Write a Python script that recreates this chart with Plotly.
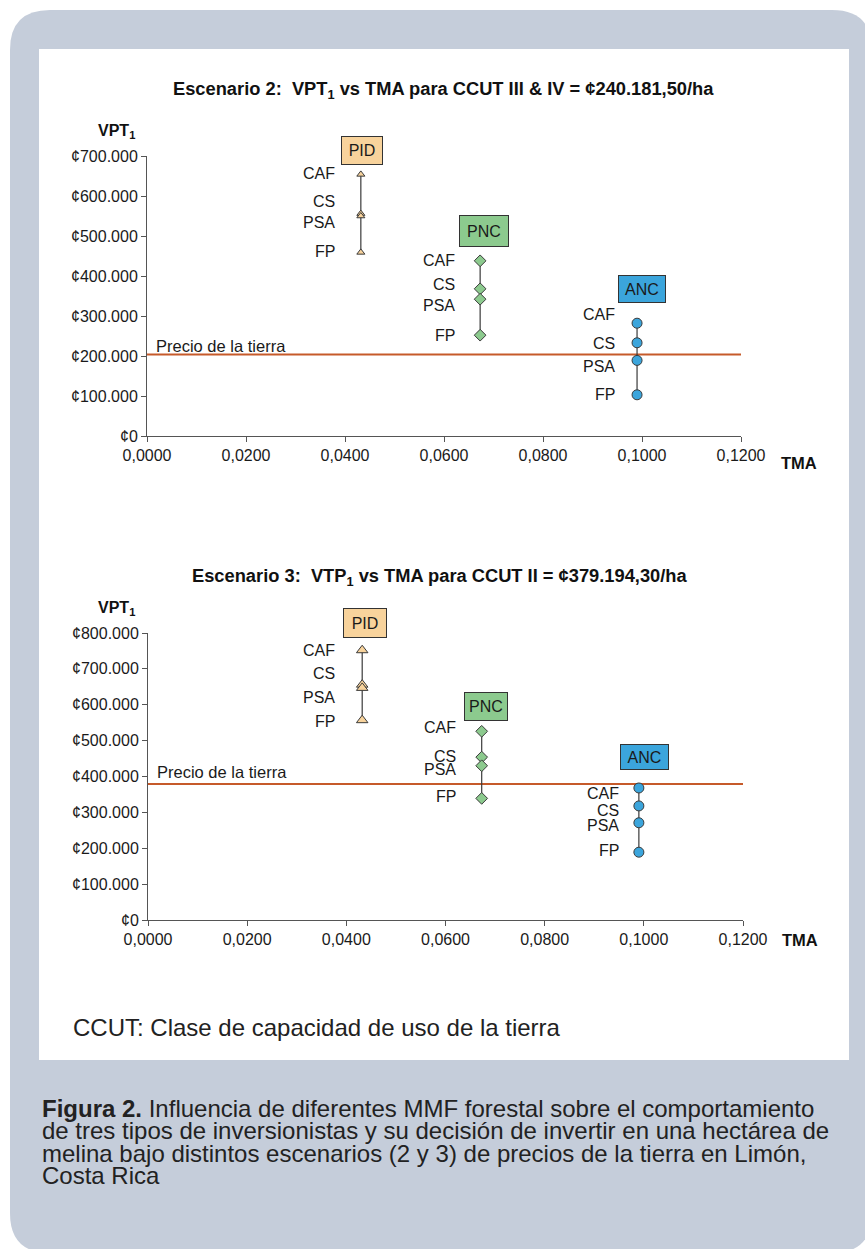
import plotly.graph_objects as go

W, H = 865, 1249

# ---------------- data ----------------
groups = ["PID", "PNC", "ANC"]
mmf = ["CAF", "CS", "PSA", "FP"]
tma = [0.0432, 0.0673, 0.0990]

esc2_pid = [654000, 556000, 550000, 459000]
esc2_pnc = [438000, 368000, 342000, 252000]
esc2_anc = [282000, 233000, 189000, 103000]
esc2_price = 204000

esc3_pid = [752000, 656000, 647000, 557000]
esc3_pnc = [526000, 454000, 430000, 339000]
esc3_anc = [368000, 318000, 271000, 189000]
esc3_price = 379194.30

x_tickvals = [0, 0.02, 0.04, 0.06, 0.08, 0.10, 0.12]
x_ticktext = ["0,0000", "0,0200", "0,0400", "0,0600", "0,0800", "0,1000", "0,1200"]
y2_tickvals = [0, 100000, 200000, 300000, 400000, 500000, 600000, 700000]
y2_ticktext = ["¢0", "¢100.000", "¢200.000", "¢300.000", "¢400.000", "¢500.000", "¢600.000", "¢700.000"]
y3_tickvals = [0, 100000, 200000, 300000, 400000, 500000, 600000, 700000, 800000]
y3_ticktext = ["¢0", "¢100.000", "¢200.000", "¢300.000", "¢400.000", "¢500.000", "¢600.000", "¢700.000", "¢800.000"]

# label positions (layout only, in value units)
lab2 = {"PID": [655000, 585000, 533000, 461000],
        "PNC": [438000, 378000, 326000, 252000],
        "ANC": [303000, 232000, 175000, 104000]}
lab3 = {"PID": [752000, 687000, 620000, 552000],
        "PNC": [536000, 457000, 420000, 343000],
        "ANC": [353000, 304000, 264000, 193000]}
# box offsets above the top point, in pixels (layout only)
boxup2 = {"PID": 23.5, "PNC": 30, "ANC": 34.5}
boxup3 = {"PID": 27, "PNC": 24.5, "ANC": 31}

FONT = "Liberation Sans, Arial, Helvetica, sans-serif"
GRAY_BG = "#C5CDDA"
colors = {"PID": "#F8D39C", "PNC": "#8CCA8E", "ANC": "#3BA5DC"}
symbols = {"PID": "triangle-up", "PNC": "diamond", "ANC": "circle"}
sizes2 = {"PID": 7, "PNC": 9, "ANC": 10}
sizes3 = {"PID": 10, "PNC": 9, "ANC": 10}
lab_gap2 = {"PID": -24, "PNC": -23, "ANC": -20}
lab_gap3 = {"PID": -25, "PNC": -24, "ANC": -18}
boxdim2 = {"PID": (40, 27), "PNC": (48, 30), "ANC": (46, 26)}
boxdim3 = {"PID": (42, 28), "PNC": (42, 27), "ANC": (47, 24)}
boxshift2 = {"PID": 1, "PNC": 4, "ANC": 5}
boxshift3 = {"PID": 3, "PNC": 4, "ANC": 6}


def px(x):
    return x / W


def py(y):
    return 1 - y / H


fig = go.Figure()

data2 = {"PID": esc2_pid, "PNC": esc2_pnc, "ANC": esc2_anc}
data3 = {"PID": esc3_pid, "PNC": esc3_pnc, "ANC": esc3_anc}

annotations = []

for (data, price, xa, ya, sizes, labs, gaps, boxup, bdim, bshift, precio_shift) in [
    (data2, esc2_price, "x", "y", sizes2, lab2, lab_gap2, boxup2, boxdim2, boxshift2, 0),
    (data3, esc3_price, "x2", "y2", sizes3, lab3, lab_gap3, boxup3, boxdim3, boxshift3, 4),
]:
    fig.add_trace(go.Scatter(
        x=[x_tickvals[0], x_tickvals[-1]], y=[price, price], mode="lines",
        line=dict(color="#C65A2A", width=2), xaxis=xa, yaxis=ya,
        showlegend=False, hoverinfo="skip"))
    for g, xv in zip(groups, tma):
        vals = data[g]
        fig.add_trace(go.Scatter(
            x=[xv] * len(vals), y=vals, mode="lines+markers",
            line=dict(color="#3a3a3a", width=1.2),
            marker=dict(symbol=symbols[g], size=sizes[g], color=colors[g],
                        line=dict(color="#3a3a3a", width=1)),
            xaxis=xa, yaxis=ya, showlegend=False, name=g))
        for m, ly in zip(mmf, labs[g]):
            annotations.append(dict(
                x=xv, y=ly, xref=xa, yref=ya, text=m, showarrow=False,
                xanchor="right", yanchor="middle", xshift=gaps[g],
                font=dict(family=FONT, size=16, color="#1a1a1a")))
        bw, bh = bdim[g]
        annotations.append(dict(
            x=xv, y=max(vals), xref=xa, yref=ya, text=g, showarrow=False,
            xanchor="center", yanchor="middle", xshift=bshift[g], yshift=boxup[g],
            width=bw, height=bh, bgcolor=colors[g], bordercolor="#333333",
            borderwidth=1, borderpad=0,
            font=dict(family=FONT, size=16, color="#1a1a1a")))
    annotations.append(dict(
        x=0, y=price, xref=xa, yref=ya, text="Precio de la tierra",
        showarrow=False, xanchor="left", yanchor="bottom", xshift=8,
        yshift=precio_shift - 2, borderpad=0,
        font=dict(family=FONT, size=16.5, color="#1a1a1a")))

# titles and axis labels
annotations += [
    dict(x=px(443), y=py(90), xref="paper", yref="paper", showarrow=False,
         text="<b>Escenario 2:  VPT<sub>1</sub> vs TMA para CCUT III & IV = ¢240.181,50/ha</b>",
         font=dict(family=FONT, size=18.3, color="#111"), xanchor="center", yanchor="middle"),
    dict(x=px(440), y=py(577), xref="paper", yref="paper", showarrow=False,
         text="<b>Escenario 3:  VTP<sub>1</sub> vs TMA para CCUT II = ¢379.194,30/ha</b>",
         font=dict(family=FONT, size=18.3, color="#111"), xanchor="center", yanchor="middle"),
    dict(x=px(117), y=py(131), xref="paper", yref="paper", showarrow=False,
         text="<b>VPT<sub>1</sub></b>", font=dict(family=FONT, size=16, color="#111"),
         xanchor="center", yanchor="middle"),
    dict(x=px(117), y=py(609), xref="paper", yref="paper", showarrow=False,
         text="<b>VPT<sub>1</sub></b>", font=dict(family=FONT, size=16, color="#111"),
         xanchor="center", yanchor="middle"),
    dict(x=px(799), y=py(463), xref="paper", yref="paper", showarrow=False,
         text="<b>TMA</b>", font=dict(family=FONT, size=16.5, color="#111"),
         xanchor="center", yanchor="middle"),
    dict(x=px(800), y=py(940), xref="paper", yref="paper", showarrow=False,
         text="<b>TMA</b>", font=dict(family=FONT, size=16.5, color="#111"),
         xanchor="center", yanchor="middle"),
    dict(x=px(71), y=py(1027), xref="paper", yref="paper", showarrow=False,
         text="CCUT: Clase de capacidad de uso de la tierra",
         font=dict(family=FONT, size=24, color="#222"), xanchor="left", yanchor="middle"),
]

caption_lines = [
    "<b>Figura 2.</b> Influencia de diferentes MMF forestal sobre el comportamiento",
    "de tres tipos de inversionistas y su decisión de invertir en una hectárea de",
    "melina bajo distintos escenarios (2 y 3) de precios de la tierra en Limón,",
    "Costa Rica",
]
for i, t in enumerate(caption_lines):
    annotations.append(dict(
        x=px(40), y=py(1108 + i * 22.5), xref="paper", yref="paper", showarrow=False,
        text=t, font=dict(family=FONT, size=24, color="#222"),
        xanchor="left", yanchor="middle"))

# background shapes (rounded gray panel + white inner panel)
x0, y0, x1, y1, r = 10, 10, 872, 1253, 40
path = (f"M {px(x0 + r)},{py(y0)} L {px(x1 - r)},{py(y0)} "
        f"Q {px(x1)},{py(y0)} {px(x1)},{py(y0 + r)} "
        f"L {px(x1)},{py(y1 - r)} Q {px(x1)},{py(y1)} {px(x1 - r)},{py(y1)} "
        f"L {px(x0 + r)},{py(y1)} Q {px(x0)},{py(y1)} {px(x0)},{py(y1 - r)} "
        f"L {px(x0)},{py(y0 + r)} Q {px(x0)},{py(y0)} {px(x0 + r)},{py(y0)} Z")
shapes = [
    dict(type="path", path=path, xref="paper", yref="paper",
         fillcolor=GRAY_BG, line=dict(width=0), layer="below"),
    dict(type="rect", xref="paper", yref="paper", x0=px(39), x1=px(849),
         y0=py(1060), y1=py(49), fillcolor="white", line=dict(width=0), layer="below"),
]

axis_common = dict(showline=True, linecolor="#555555", linewidth=1, ticks="outside",
                   ticklen=5, tickcolor="#555555", showgrid=False, zeroline=False,
                   automargin=False,
                   tickfont=dict(family=FONT, size=16, color="#1a1a1a"), fixedrange=True)

fig.update_layout(
    width=W, height=H, autosize=False,
    margin=dict(l=0, r=0, t=0, b=0, pad=0, autoexpand=False),
    paper_bgcolor="white", plot_bgcolor="rgba(0,0,0,0)",
    showlegend=False,
    xaxis=dict(domain=[px(147), px(741)], range=[0, 0.12], anchor="y",
               tickvals=x_tickvals, ticktext=x_ticktext, **axis_common),
    yaxis=dict(domain=[py(436), py(156)], range=[0, 700000], anchor="x",
               tickvals=y2_tickvals, ticktext=y2_ticktext, **axis_common),
    xaxis2=dict(domain=[px(148), px(743)], range=[0, 0.12], anchor="y2",
                tickvals=x_tickvals, ticktext=x_ticktext, **axis_common),
    yaxis2=dict(domain=[py(920), py(633)], range=[0, 800000], anchor="x2",
                tickvals=y3_tickvals, ticktext=y3_ticktext, **axis_common),
    annotations=annotations,
    shapes=shapes,
)

fig.write_html(
    "out.html",
    config={"displayModeBar": False, "responsive": False},
    post_script="document.body.style.margin='0';document.body.style.padding='0';"
                "document.body.style.overflow='hidden';"
                "document.documentElement.style.overflow='hidden';",
)
